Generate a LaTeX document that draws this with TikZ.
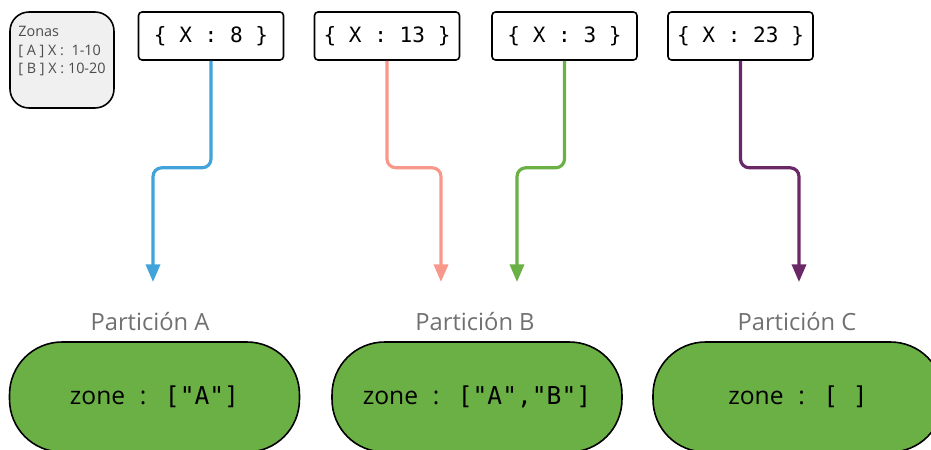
\documentclass[tikz,border=0pt]{standalone}
\usepackage{fontspec}
\setmainfont{Open Sans}
\newfontfamily\monofont{DejaVu Sans Mono}
\usetikzlibrary{positioning,arrows.meta}

\definecolor{azul}{HTML}{41A3D9}
\definecolor{salmon}{HTML}{F7988A}
\definecolor{verde}{HTML}{6AB045}
\definecolor{morado}{HTML}{6B2866}
\definecolor{gristexto}{HTML}{707070}

\newcommand{\dospuntos}{\hspace{0.6em}:\hspace{0.75em}}

\begin{document}
\begin{tikzpicture}[x=0.02cm,y=-0.02cm,
		clave/.style={draw,line width=0.9pt,rounded corners=2pt,minimum width=2.9cm,minimum height=0.96cm,font=\monofont\fontsize{12}{14}\selectfont},
		titulo/.style={text=gristexto,font=\fontsize{13.5}{16}\selectfont},
		particion/.style={draw,line width=0.9pt,fill=verde,rounded corners=1.05cm,minimum width=5.8cm,minimum height=2.2cm,font=\fontsize{14}{16}\selectfont},
		flecha/.style={line width=1.8pt,rounded corners=5pt,-{Triangle[width=8pt,length=10pt]}}]
		\useasboundingbox (0,0) rectangle (931,450);

		% Legend
		\node[draw,line width=0.9pt,fill=black!6,rounded corners=0.38cm,minimum width=2.08cm,minimum height=1.92cm] (leyenda) at (62,60) {};
		\node[anchor=north west,align=left,inner sep=0pt,text=black!70,font=\fontsize{8.2}{10.5}\selectfont] (zonas) at (18,26) {Zonas\\{}[ A ] X :\ \ 1-10\\{}[ B ] X : 10-20};

		% Documents
		\node[clave] (x8) at (211,36) {\{ X : 8 \}};
		\node[clave] (x13) at (387,36) {\{ X : 13 \}};
		\node[clave] (x3) at (564.5,36) {\{ X : 3 \}};
		\node[clave] (x23) at (740.5,36) {\{ X : 23 \}};

		% Partitions
		\node[titulo] (tA) at (150,322) {Partición A};
		\node[titulo] (tB) at (475,322) {Partición B};
		\node[titulo] (tC) at (797,322) {Partición C};
		\node[particion] (pA) at (154.5,397) {zone\dospuntos{\monofont ["A"]}};
		\node[particion] (pB) at (477,397) {zone\dospuntos{\monofont ["A","B"]}};
		\node[particion] (pC) at (798,397) {zone\dospuntos{\monofont [ ]}};

		% Arrow ends
		\coordinate (fA) at (153,282);
		\coordinate (fB1) at (441,282);
		\coordinate (fB2) at (517,282);
		\coordinate (fC) at (799,282);

		\draw[flecha,azul] (x8.south) -- ++(0,107) -| (fA);
		\draw[flecha,salmon] (x13.south) -- ++(0,107) -| (fB1);
		\draw[flecha,verde] (x3.south) -- ++(0,107) -| (fB2);
		\draw[flecha,morado] (x23.south) -- ++(0,107) -| (fC);
	\end{tikzpicture}
\end{document}
